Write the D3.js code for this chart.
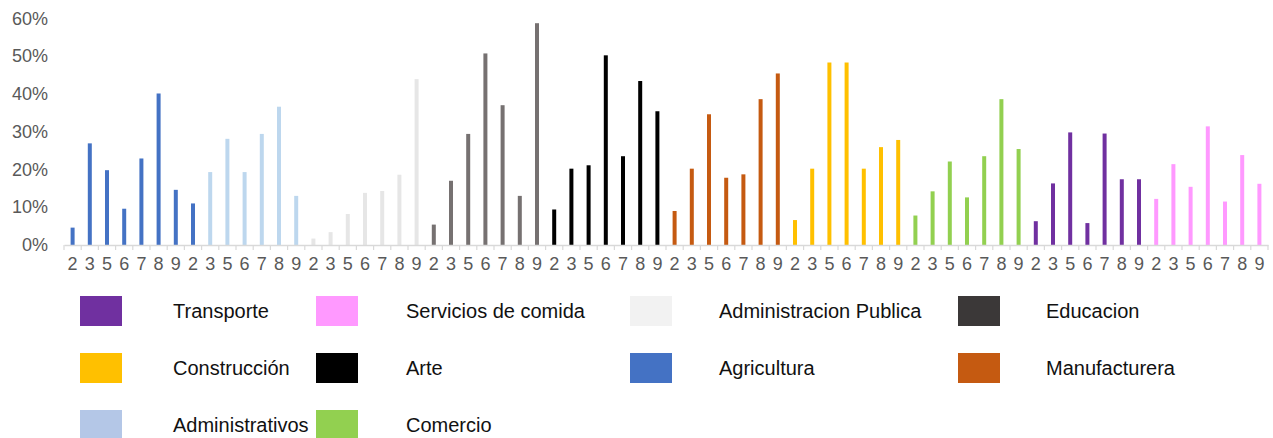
<!DOCTYPE html>
<html>
<head>
<meta charset="utf-8">
<script src="https://cdn.jsdelivr.net/npm/d3@7"></script>
<style>
  html, body { margin: 0; padding: 0; background: #fff; }
  svg { display: block; font-family: "Liberation Sans", Arial, sans-serif; }
</style>
</head>
<body>
<svg id="chart" width="1273" height="438"></svg>
<script>
// ---- Data ----
const categories = [
  "2","3","5","6","7","8","9","2","3","5","6","7","8","9",
  "2","3","5","6","7","8","9","2","3","5","6","7","8","9",
  "2","3","5","6","7","8","9","2","3","5","6","7","8","9",
  "2","3","5","6","7","8","9","2","3","5","6","7","8","9",
  "2","3","5","6","7","8","9","2","3","5","6","7","8","9"
];
const seriesNames = ["Agricultura","Administrativos","Administracion Publica","Educacion","Arte",
  "Manufacturera","Construcción","Comercio","Transporte","Servicios de comida"];
const agricultura   = [4.6, 26.9, 19.8, 9.6, 22.9, 40.1, 14.6, 11.0];
const administrativos = [19.3, 28.1, 19.3, 29.4, 36.6, 13.0];
const adminPublica  = [1.7, 3.4, 8.2, 13.8, 14.3, 18.6, 43.9];
const educacion     = [5.4, 17.0, 29.4, 50.7, 37.0, 13.0, 58.7];
const arte          = [9.4, 20.2, 21.1, 50.2, 23.5, 43.4, 35.4];
const manufacturera = [9.0, 20.2, 34.6, 17.8, 18.7, 38.6, 45.4];
const construccion  = [6.6, 20.2, 48.3, 48.3, 20.2, 25.9, 27.8];
const comercio      = [7.8, 14.2, 22.1, 12.6, 23.5, 38.6, 25.4];
const transporte    = [6.3, 16.3, 29.8, 5.8, 29.5, 17.4, 17.4];
const servicios     = [12.2, 21.4, 15.4, 31.4, 11.5, 23.8, 16.2];
const seriesValues = [agricultura, administrativos, adminPublica, educacion, arte,
  manufacturera, construccion, comercio, transporte, servicios];
const barColors    = ["#4472C4","#BDD7EE","#E6E6E6","#767171","#000000",
  "#C55A11","#FFC000","#92D050","#7030A0","#FF99FF"];
const legendColors = ["#4472C4","#B4C7E7","#F2F2F2","#3B3838","#000000",
  "#C55A11","#FFC000","#92D050","#7030A0","#FF99FF"];
const yTicks = [0, 10, 20, 30, 40, 50, 60];
// legend order (row-major, 4 columns)
const legendOrder = ["Transporte","Servicios de comida","Administracion Publica","Educacion",
  "Construcción","Arte","Agricultura","Manufacturera","Administrativos","Comercio"];

// ---- Build flat bar list ----
const bars = [];
let slot = 0;
seriesValues.forEach((vals, si) => {
  vals.forEach(v => { bars.push({ slot: slot, value: v, series: si }); slot++; });
});

const svg = d3.select("#chart");
const x = d3.scaleBand().domain(d3.range(categories.length)).range([64, 1268]).padding(0);
const y = d3.scaleLinear().domain([0, 60]).range([245, 18.3]);
const barW = 4;

// Bars
svg.append("g").selectAll("rect").data(bars).join("rect")
  .attr("x", d => x(d.slot) + x.bandwidth() / 2 - barW / 2)
  .attr("y", d => y(d.value))
  .attr("width", barW)
  .attr("height", d => y(0) - y(d.value))
  .attr("fill", d => barColors[d.series]);

// X axis
const xAxis = d3.axisBottom(x).tickFormat(i => categories[i]).tickSize(0).tickPadding(12);
const gx = svg.append("g").attr("transform", `translate(0,${y(0)})`).call(xAxis);
gx.select(".domain").attr("stroke", "#D9D9D9").attr("stroke-width", 1.5);
gx.selectAll("text").attr("font-size", 18).attr("fill", "#595959")
  .attr("font-family", "Liberation Sans, Arial, sans-serif");
// tick marks at band boundaries
const boundaries = d3.range(categories.length + 1).map(i => 64 + i * x.bandwidth());
svg.append("g").selectAll("line").data(boundaries).join("line")
  .attr("x1", d => d).attr("x2", d => d)
  .attr("y1", y(0)).attr("y2", y(0) + 5)
  .attr("stroke", "#D9D9D9").attr("stroke-width", 1.2);

// Y axis labels
const yAxis = d3.axisLeft(y).tickValues(yTicks).tickFormat(d => d + "%").tickSize(0).tickPadding(0);
const gy = svg.append("g").attr("transform", "translate(48,0)").call(yAxis);
gy.select(".domain").remove();
gy.selectAll("text").attr("font-size", 18).attr("fill", "#595959")
  .attr("font-family", "Liberation Sans, Arial, sans-serif");

// Legend
const colSwatchX = [80, 316, 630, 958];
const colTextX = [173, 406, 719, 1046];
const rowTop = [296, 353, 410];
const lg = svg.append("g").selectAll("g").data(legendOrder).join("g");
lg.append("rect")
  .attr("x", (d, i) => colSwatchX[i % 4])
  .attr("y", (d, i) => rowTop[Math.floor(i / 4)])
  .attr("width", 42).attr("height", 30)
  .attr("fill", d => legendColors[seriesNames.indexOf(d)]);
lg.append("text")
  .attr("x", (d, i) => colTextX[i % 4])
  .attr("y", (d, i) => rowTop[Math.floor(i / 4)] + 16.5)
  .attr("dominant-baseline", "middle")
  .attr("font-size", 20)
  .attr("fill", "#111")
  .text(d => d);
</script>
</body>
</html>
